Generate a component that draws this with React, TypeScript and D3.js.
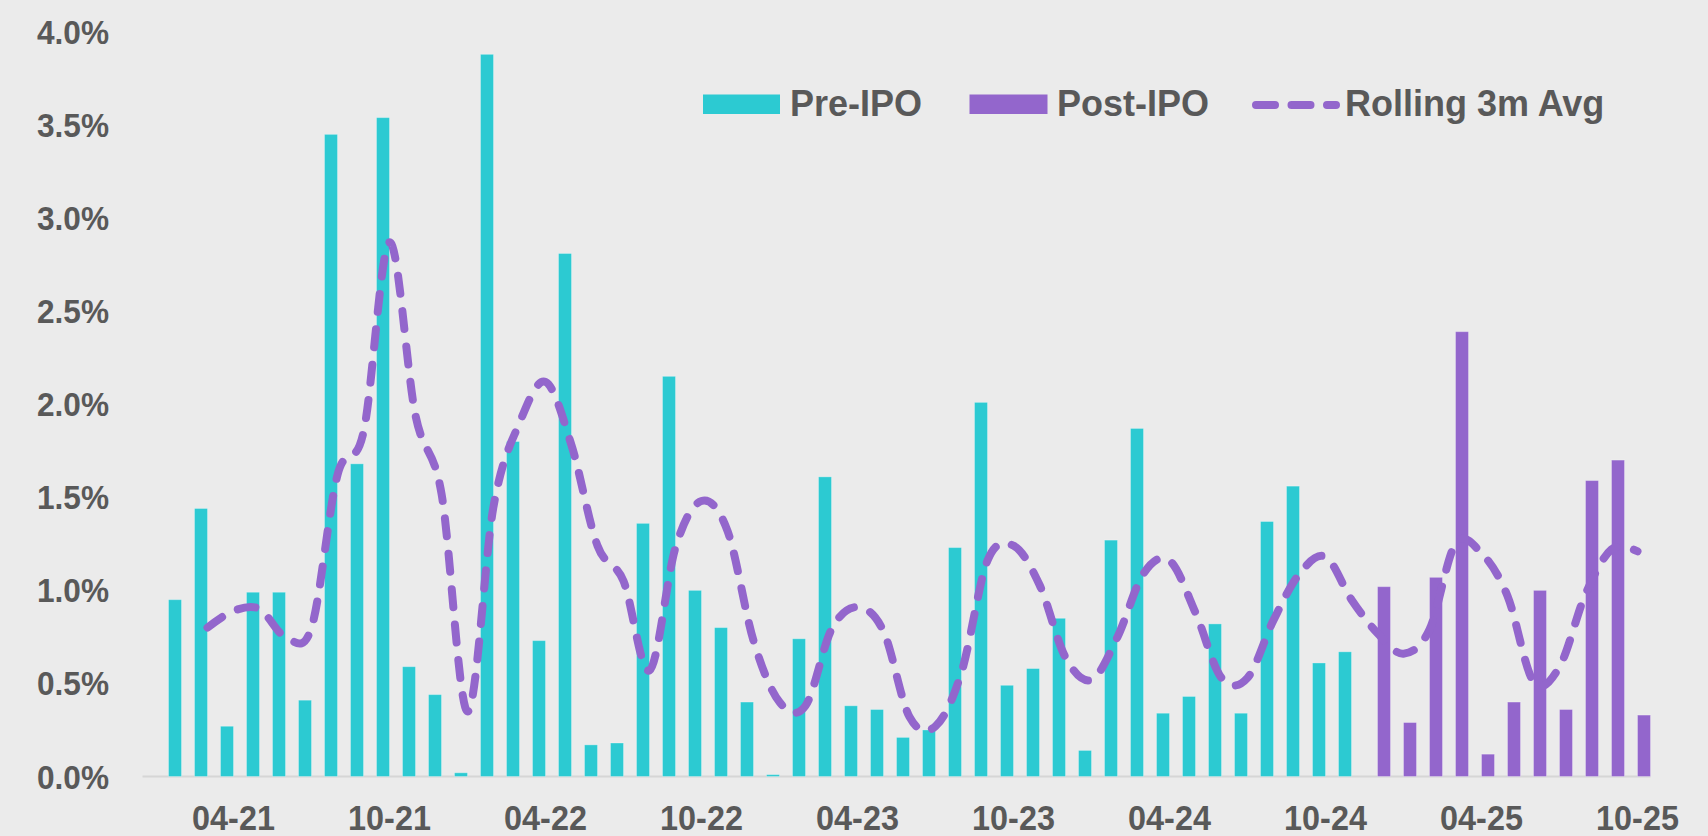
import React, { useEffect, useRef } from 'react';
import * as d3 from 'd3';

// month categories, 01-21 .. 10-25 (01-21 has no bar)
const months: string[] = [
  '01-21', '02-21', '03-21', '04-21', '05-21', '06-21', '07-21', '08-21', '09-21', '10-21', '11-21', '12-21',
  '01-22', '02-22', '03-22', '04-22', '05-22', '06-22', '07-22', '08-22', '09-22', '10-22', '11-22', '12-22',
  '01-23', '02-23', '03-23', '04-23', '05-23', '06-23', '07-23', '08-23', '09-23', '10-23', '11-23', '12-23',
  '01-24', '02-24', '03-24', '04-24', '05-24', '06-24', '07-24', '08-24', '09-24', '10-24', '11-24', '12-24',
  '01-25', '02-25', '03-25', '04-25', '05-25', '06-25', '07-25', '08-25', '09-25', '10-25',
];

// values in % (null = no bar for that month)
const preIpo: (number | null)[] = [
  null, 0.95, 1.44, 0.27, 0.99, 0.99, 0.41, 3.45, 1.68, 3.54, 0.59, 0.44,
  0.02, 3.88, 1.80, 0.73, 2.81, 0.17, 0.18, 1.36, 2.15, 1.00, 0.80, 0.40,
  0.01, 0.74, 1.61, 0.38, 0.36, 0.21, 0.25, 1.23, 2.01, 0.49, 0.58, 0.85,
  0.14, 1.27, 1.87, 0.34, 0.43, 0.82, 0.34, 1.37, 1.56, 0.61, 0.67, null,
  null, null, null, null, null, null, null, null, null, null,
];

const postIpo: (number | null)[] = [
  null, null, null, null, null, null, null, null, null, null, null, null,
  null, null, null, null, null, null, null, null, null, null, null, null,
  null, null, null, null, null, null, null, null, null, null, null, null,
  null, null, null, null, null, null, null, null, null, null, null, 1.02,
  0.29, 1.07, 2.39, 0.12, 0.40, 1.00, 0.36, 1.59, 1.70, 0.33,
];

const rolling3m: (number | null)[] = [
  null, null, 0.80, 0.89, 0.90, 0.75, 0.80, 1.62, 1.85, 2.87, 1.94, 1.52,
  0.35, 1.45, 1.90, 2.12, 1.78, 1.24, 1.05, 0.57, 1.23, 1.48, 1.32, 0.73,
  0.40, 0.38, 0.79, 0.91, 0.78, 0.32, 0.27, 0.56, 1.16, 1.24, 1.03, 0.64,
  0.52, 0.75, 1.09, 1.16, 0.88, 0.53, 0.53, 0.84, 1.09, 1.18, 0.95, 0.77,
  0.66, 0.79, 1.25, 1.20, 0.97, 0.51, 0.59, 0.98, 1.22, 1.21,
];

const xTickLabels: string[] = ['04-21', '10-21', '04-22', '10-22', '04-23', '10-23', '04-24', '10-24', '04-25', '10-25'];
const yTicks: number[] = [0, 0.5, 1.0, 1.5, 2.0, 2.5, 3.0, 3.5, 4.0];

const CYAN = '#2CCAD2';
const PURPLE = '#9366CC';
const TEXT = '#595959';
const FONT = '"Liberation Sans", Arial, sans-serif';

const App = () => {
  const ref = useRef<SVGSVGElement>(null);

  useEffect(() => {
    const width = 1708;
    const height = 836;
    const svg = d3.select(ref.current);
    svg.selectAll('*').remove();

    svg.append('rect').attr('width', width).attr('height', height).attr('fill', '#EBEBEB');

    const x = d3.scaleBand<string>().domain(months).range([142.5, 1650.5]).padding(0);
    const y = d3.scaleLinear().domain([0, 4]).range([776.5, 32]);
    const half = x.bandwidth() / 2;

    // y axis labels
    svg.append('g')
      .selectAll('text')
      .data(yTicks)
      .join('text')
      .attr('transform', d => `translate(109,${y(d) + 12}) scale(0.93,1)`)
      .attr('text-anchor', 'end')
      .attr('font-family', FONT)
      .attr('font-weight', 'bold')
      .attr('font-size', 34)
      .attr('fill', TEXT)
      .text(d => d3.format('.1f')(d) + '%');

    // baseline
    svg.append('line')
      .attr('x1', x.range()[0]).attr('x2', x.range()[1])
      .attr('y1', y(0)).attr('y2', y(0))
      .attr('stroke', '#D6D6D6').attr('stroke-width', 2);

    // x labels
    svg.append('g')
      .selectAll('text')
      .data(xTickLabels)
      .join('text')
      .attr('transform', d => `translate(${(x(d) as number) + half},830) scale(0.9,1)`)
      .attr('text-anchor', 'middle')
      .attr('font-family', FONT)
      .attr('font-weight', 'bold')
      .attr('font-size', 36)
      .attr('fill', TEXT)
      .text(d => d);

    // bars: pre in the left half of each month, post in the right half
    const preData = months.map((m, i) => ({ m, v: preIpo[i] })).filter(d => d.v !== null);
    const postData = months.map((m, i) => ({ m, v: postIpo[i] })).filter(d => d.v !== null);

    svg.append('g')
      .selectAll('rect')
      .data(preData)
      .join('rect')
      .attr('x', d => x(d.m) as number)
      .attr('width', half)
      .attr('y', d => y(d.v as number))
      .attr('height', d => y(0) - y(d.v as number))
      .attr('fill', CYAN)
      .attr('stroke', 'rgba(255,255,255,0.3)')
      .attr('stroke-width', 1);

    svg.append('g')
      .selectAll('rect')
      .data(postData)
      .join('rect')
      .attr('x', d => (x(d.m) as number) + half)
      .attr('width', half)
      .attr('y', d => y(d.v as number))
      .attr('height', d => y(0) - y(d.v as number))
      .attr('fill', PURPLE)
      .attr('stroke', 'rgba(255,255,255,0.3)')
      .attr('stroke-width', 1);

    // rolling average, smoothed dashed line
    const lineData = months.map((m, i) => ({ m, v: rolling3m[i] })).filter(d => d.v !== null);
    const line = d3.line<{ m: string; v: number | null }>()
      .x(d => (x(d.m) as number) + half)
      .y(d => y(d.v as number))
      .curve(d3.curveCardinal.tension(0));

    svg.append('path')
      .datum(lineData)
      .attr('d', line)
      .attr('fill', 'none')
      .attr('stroke', PURPLE)
      .attr('stroke-width', 8)
      .attr('stroke-linecap', 'round')
      .attr('stroke-dasharray', '18 17.5');

    // legend
    const legend = svg.append('g')
      .attr('font-family', FONT)
      .attr('font-weight', 'bold')
      .attr('font-size', 36)
      .attr('fill', TEXT);

    legend.append('rect').attr('x', 703).attr('y', 94.5).attr('width', 77).attr('height', 19.5).attr('fill', CYAN);
    legend.append('text').attr('x', 790).attr('y', 116).text('Pre-IPO');

    legend.append('rect').attr('x', 969.5).attr('y', 94.5).attr('width', 78).attr('height', 19.5).attr('fill', PURPLE);
    legend.append('text').attr('x', 1057).attr('y', 116).text('Post-IPO');

    legend.append('line')
      .attr('x1', 1256).attr('x2', 1336).attr('y1', 105).attr('y2', 105)
      .attr('stroke', PURPLE)
      .attr('stroke-width', 8)
      .attr('stroke-linecap', 'round')
      .attr('stroke-dasharray', '19 16.5');
    legend.append('text').attr('x', 1345).attr('y', 116).text('Rolling 3m Avg');
  }, []);

  return (
    <svg
      ref={ref}
      width={1708}
      height={836}
      style={{ position: 'absolute', left: 0, top: 0, display: 'block' }}
    />
  );
};

export default App;
